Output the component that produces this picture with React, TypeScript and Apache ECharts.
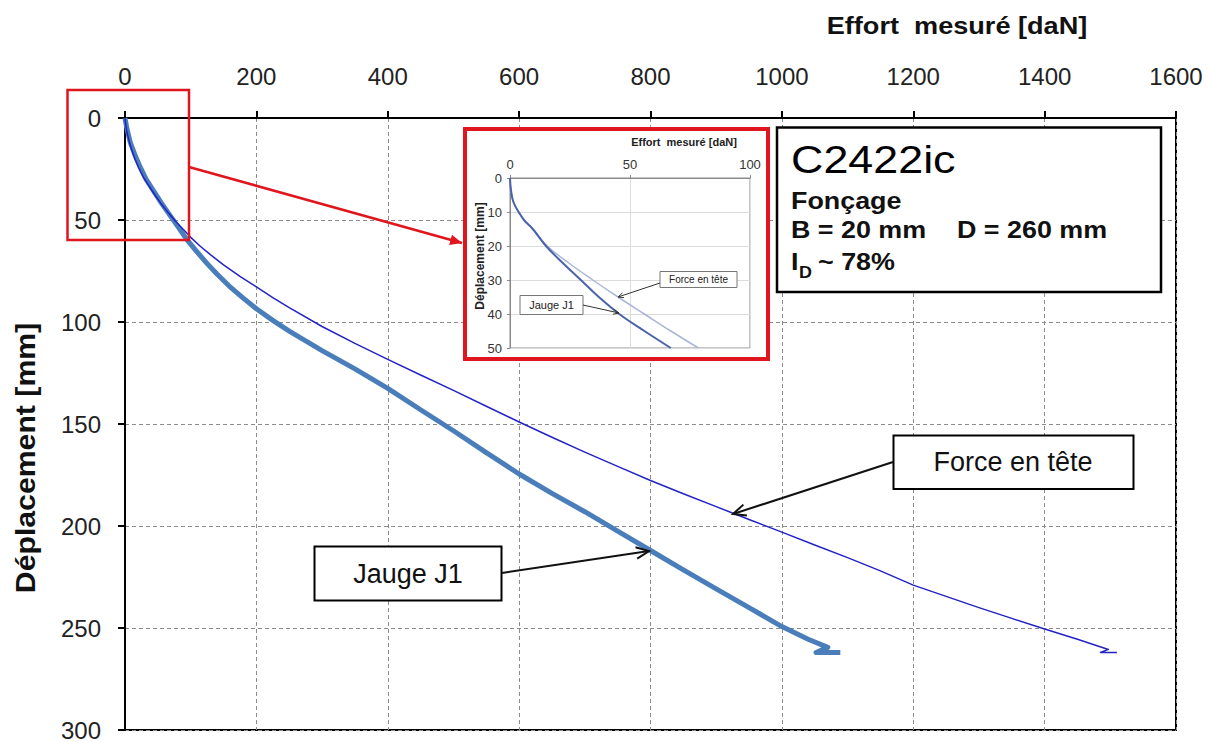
import { useEffect, useRef } from "react";
import * as echarts from "echarts";

// ---------- data ----------
// Main chart: effort [daN] vs déplacement [mm]
const xTicks = [0, 200, 400, 600, 800, 1000, 1200, 1400, 1600];
const yTicks = [0, 50, 100, 150, 200, 250, 300];

const forceEffort = [0, 1, 3, 6, 10, 15, 21, 28, 36, 45, 55, 66, 78, 90, 100, 115, 130, 150, 175, 200, 225, 250, 300, 350, 400, 450, 500, 550, 600, 650, 700, 750, 800, 850, 900, 950, 1000, 1050, 1100, 1150, 1200, 1250, 1300, 1350, 1400, 1450, 1497, 1485, 1510];
const forceDepl = [0, 3, 7, 11, 15.5, 20, 24.5, 29, 33, 37.5, 42, 46.5, 51, 55, 58.5, 63, 67, 72, 77.6, 82.8, 88, 93, 102.2, 110.5, 118.3, 126, 133.5, 141.3, 149, 156.5, 163.8, 170.8, 177.7, 184.2, 190.5, 196.8, 203, 209.3, 215.5, 222, 229, 234.5, 240, 245.3, 250.5, 255.5, 260.5, 262, 262];

const jaugeEffort = [0, 2.5, 8, 15, 23, 32, 43, 55, 68, 80, 94, 108, 124, 140, 159, 180, 200, 225, 250, 300, 350, 400, 450, 500, 550, 600, 650, 700, 750, 800, 850, 900, 950, 1000, 1040, 1070, 1052, 1089];
const jaugeDepl = [0, 4.6, 12, 18, 24, 30, 35.5, 41.5, 47.5, 53, 59.5, 65, 71, 76.5, 82.5, 88.3, 93.5, 99.2, 104.5, 114, 123, 132.5, 143, 153.3, 164, 174.5, 184, 193, 202.5, 212, 221.5, 230.8, 240, 249.3, 255.5, 259.5, 262, 262];

// Inset (zoom on 0-100 daN, 0-50 mm)
const insetJaugeEffort = [0, 0.3, 1, 2, 3.6, 6, 9.5, 15, 22, 29.5, 37, 45.5, 56, 67];
const insetJaugeDepl = [0, 3, 6, 8, 10, 12.5, 15, 20, 25, 30, 35, 40, 45, 50];
const insetForceEffort = [0, 0.3, 1, 2, 3.6, 6, 9.5, 15.5, 24.5, 34.5, 45, 56, 67, 78.5];
const insetForceDepl = [0, 3, 6, 8, 10, 12.5, 15, 20, 25, 30, 35, 40, 45, 50];

const FONT = '"Liberation Sans", Arial, Helvetica, sans-serif';

const zip = (a: number[], b: number[]) => a.map((v, i) => [v, b[i]]);

function arrow(
  x1: number, y1: number, x2: number, y2: number,
  color: string, w: number, len: number, filled: boolean, z: number
): any[] {
  const a = Math.atan2(y2 - y1, x2 - x1);
  const ang = 0.42;
  const p1 = [x2 - len * Math.cos(a - ang), y2 - len * Math.sin(a - ang)];
  const p2 = [x2 - len * Math.cos(a + ang), y2 - len * Math.sin(a + ang)];
  return [
    { type: "line", z, shape: { x1, y1, x2, y2 }, style: { stroke: color, lineWidth: w } },
    filled
      ? { type: "polygon", z, shape: { points: [p1, [x2, y2], p2] }, style: { fill: color } }
      : { type: "polyline", z, shape: { points: [p1, [x2, y2], p2] }, style: { stroke: color, lineWidth: w, fill: null } },
  ];
}

function txt(
  text: string, x: number, y: number, size: number, bold: boolean,
  align: string, opts: any = {}
): any {
  return {
    type: "text",
    z: opts.z ?? 20,
    x, y,
    rotation: opts.rotation ?? 0,
    scaleX: opts.scaleX ?? 1,
    style: {
      text,
      fill: opts.color ?? "#111",
      font: `${bold ? "bold " : ""}${size}px ${FONT}`,
      textAlign: align,
      textVerticalAlign: "middle",
    },
  };
}

export default function App() {
  const ref = useRef<HTMLDivElement>(null);

  useEffect(() => {
    const chart = echarts.init(ref.current!, null, { renderer: "svg" });

    const gridDash = { color: "#8c8c8c", width: 1, type: [4, 3] as any };
    const plain = (v: number) => String(v);

    const graphic: any[] = [
      // inset frame (white, red border) covering main gridlines
      { type: "rect", z: 5, shape: { x: 465, y: 129, width: 303, height: 230 }, style: { fill: "#fff", stroke: "#e0161e", lineWidth: 4 } },
      // red zoom frame on main chart
      { type: "rect", z: 6, shape: { x: 67.5, y: 90, width: 121.5, height: 150 }, style: { fill: "none", stroke: "#e0161e", lineWidth: 2.5 } },
      ...arrow(189, 167, 462, 243, "#e0161e", 2.5, 13, true, 6),

      // axis titles
      txt("Effort  mesuré [daN]", 957, 26, 24, true, "center", { scaleX: 1.13 }),
      txt("Déplacement [mm]", 25, 458, 28, true, "center", { rotation: Math.PI / 2, scaleX: 1.08 }),

      // info box
      { type: "rect", z: 19, shape: { x: 777, y: 127.5, width: 384, height: 164.5 }, style: { fill: "#fff", stroke: "#000", lineWidth: 2.5 } },
      txt("C2422ic", 791, 160, 39, false, "left", { scaleX: 1.15, color: "#000" }),
      txt("Fonçage", 791, 201, 24, true, "left", { scaleX: 1.12 }),
      txt("B = 20 mm", 791, 230, 24, true, "left", { scaleX: 1.12 }),
      txt("D = 260 mm", 957, 230, 24, true, "left", { scaleX: 1.12 }),
      txt("I", 791, 262, 24, true, "left", { scaleX: 1.12 }),
      txt("D", 799, 273, 16, true, "left", { scaleX: 1.12 }),
      txt("~ 78%", 818, 262, 24, true, "left", { scaleX: 1.12 }),

      // label boxes
      { type: "rect", z: 19, shape: { x: 893.5, y: 435.5, width: 240, height: 53.5 }, style: { fill: "#fff", stroke: "#000", lineWidth: 2 } },
      txt("Force en tête", 1013, 462, 27, false, "center"),
      ...arrow(893, 462, 733, 514, "#111", 2, 14, false, 19),
      { type: "rect", z: 19, shape: { x: 314.5, y: 546.5, width: 187, height: 54 }, style: { fill: "#fff", stroke: "#000", lineWidth: 2 } },
      txt("Jauge J1", 408, 574, 27, false, "center"),
      ...arrow(502, 573, 649, 551, "#111", 2, 14, false, 19),

      // inset titles
      txt("Effort  mesuré [daN]", 684, 142, 11, true, "center", { z: 14, color: "#222" }),
      txt("Déplacement [mm]", 480, 256, 12, true, "center", { z: 14, color: "#222", rotation: Math.PI / 2 }),
      // inset labels
      { type: "rect", z: 14, shape: { x: 660, y: 271.5, width: 77, height: 16 }, style: { fill: "#fff", stroke: "#777", lineWidth: 1 } },
      txt("Force en tête", 698.5, 279.5, 10, false, "center", { z: 15, color: "#222" }),
      ...arrow(660, 283, 618, 297, "#333", 1, 6, false, 15),
      { type: "rect", z: 14, shape: { x: 520, y: 295.5, width: 63, height: 19 }, style: { fill: "#fff", stroke: "#777", lineWidth: 1 } },
      txt("Jauge J1", 551.5, 305, 11, false, "center", { z: 15, color: "#222" }),
      ...arrow(583, 305, 619, 313, "#333", 1, 6, false, 15),
    ];

    const option: any = {
      animation: false,
      backgroundColor: "#fff",
      grid: [
        { left: 125, top: 118, width: 1051, height: 614, show: true, borderColor: "#000", borderWidth: 2, backgroundColor: "transparent" },
        { left: 510, top: 178, width: 240, height: 170, show: true, borderColor: "#8a8a8a", borderWidth: 1, backgroundColor: "transparent", z: 10 },
      ],
      xAxis: [
        {
          gridIndex: 0, type: "value", position: "top",
          min: xTicks[0], max: xTicks[xTicks.length - 1], interval: xTicks[1] - xTicks[0],
          axisLine: { show: true, lineStyle: { color: "#000", width: 2 } },
          axisTick: { show: true, length: 7, lineStyle: { color: "#000", width: 2 } },
          axisLabel: { fontSize: 24, color: "#222", margin: 30, fontFamily: FONT, formatter: plain },
          splitLine: { show: true, lineStyle: gridDash },
        },
        {
          gridIndex: 1, type: "value", position: "top", min: 0, max: 100, interval: 50, z: 11,
          axisLine: { show: true, lineStyle: { color: "#8a8a8a", width: 1 } },
          axisTick: { show: true, length: 3, lineStyle: { color: "#8a8a8a" } },
          axisLabel: { fontSize: 13, color: "#333", margin: 7, fontFamily: FONT, formatter: plain },
          splitLine: { show: true, lineStyle: { color: "#dcdcdc", width: 1 } },
        },
      ],
      yAxis: [
        {
          gridIndex: 0, type: "value", inverse: true,
          min: yTicks[0], max: yTicks[yTicks.length - 1], interval: yTicks[1] - yTicks[0],
          axisLine: { show: true, lineStyle: { color: "#000", width: 2 } },
          axisTick: { show: true, length: 7, lineStyle: { color: "#000", width: 2 } },
          axisLabel: { fontSize: 24, color: "#222", margin: 24, fontFamily: FONT, formatter: plain },
          splitLine: { show: true, lineStyle: gridDash },
        },
        {
          gridIndex: 1, type: "value", inverse: true, min: 0, max: 50, interval: 10, z: 11,
          axisLine: { show: true, lineStyle: { color: "#8a8a8a", width: 1 } },
          axisTick: { show: true, length: 3, lineStyle: { color: "#8a8a8a" } },
          axisLabel: { fontSize: 13, color: "#333", margin: 8, fontFamily: FONT, formatter: plain },
          splitLine: { show: true, lineStyle: { color: "#dcdcdc", width: 1 } },
        },
      ],
      series: [
        {
          name: "Jauge J1", type: "line", xAxisIndex: 0, yAxisIndex: 0, z: 2,
          data: zip(jaugeEffort, jaugeDepl), showSymbol: false, symbol: "none",
          lineStyle: { color: "#4a7ebb", width: 5, join: "round" },
        },
        {
          name: "Force en tête", type: "line", xAxisIndex: 0, yAxisIndex: 0, z: 3,
          data: zip(forceEffort, forceDepl), showSymbol: false, symbol: "none",
          lineStyle: { color: "#2323c4", width: 1.5, join: "round" },
        },
        {
          name: "Force en tête (zoom)", type: "line", xAxisIndex: 1, yAxisIndex: 1, z: 12,
          data: zip(insetForceEffort, insetForceDepl), showSymbol: false, symbol: "none", smooth: 0.4,
          lineStyle: { color: "#a9b6da", width: 1.5 },
        },
        {
          name: "Jauge J1 (zoom)", type: "line", xAxisIndex: 1, yAxisIndex: 1, z: 12,
          data: zip(insetJaugeEffort, insetJaugeDepl), showSymbol: false, symbol: "none", smooth: 0.4,
          lineStyle: { color: "#4b63aa", width: 2 },
        },
      ],
      graphic,
    };

    chart.setOption(option);
    return () => chart.dispose();
  }, []);

  return (
    <div
      ref={ref}
      style={{ position: "fixed", left: 0, top: 0, width: 1215, height: 742, background: "#fff" }}
    />
  );
}
